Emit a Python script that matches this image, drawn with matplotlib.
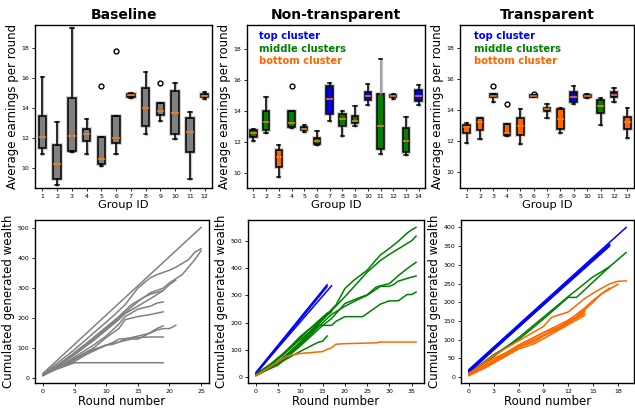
import matplotlib
matplotlib.use("Agg")
import matplotlib.pyplot as plt

# ---- box statistics: (whislo, q1, med, q3, whishi, fliers)
base_stats = [
    (10.93, 11.38, 12.07, 13.49, 16.07, []),
    (8.93, 9.33, 10.27, 11.53, 13.10, []),
    (11.07, 11.18, 12.16, 14.67, 19.33, []),
    (10.93, 11.84, 12.29, 12.64, 13.27, []),
    (10.18, 10.27, 10.64, 12.11, 12.11, [15.49]),
    (10.98, 11.67, 12.00, 13.51, 13.51, [17.82]),
    (14.71, 14.78, 14.87, 14.93, 15.00, []),
    (12.29, 12.82, 14.00, 15.33, 16.42, []),
    (13.16, 13.56, 13.82, 14.38, 14.38, [15.67]),
    (11.93, 12.27, 13.67, 15.18, 15.67, []),
    (9.33, 11.11, 12.44, 13.33, 13.76, []),
    (14.60, 14.73, 14.82, 14.93, 15.07, []),
]
nt_stats = [
    (12.07, 12.28, 12.54, 12.78, 12.83, []),
    (12.57, 12.76, 13.24, 13.98, 14.89, []),
    (9.72, 10.37, 11.02, 11.48, 11.76, []),
    (12.87, 12.93, 13.22, 13.98, 13.98, [15.63]),
    (12.65, 12.74, 12.85, 12.98, 13.09, []),
    (11.78, 11.85, 12.02, 12.22, 12.67, []),
    (13.33, 13.76, 14.78, 15.63, 15.80, []),
    (12.39, 13.00, 13.48, 13.76, 13.98, []),
    (13.04, 13.20, 13.35, 13.65, 14.30, []),
    (14.39, 14.72, 14.96, 15.24, 15.72, []),
    (11.20, 11.52, 13.02, 15.11, 17.33, []),
    (14.76, 14.89, 14.96, 15.02, 15.07, []),
    (11.15, 11.30, 12.04, 12.91, 13.61, []),
    (14.35, 14.61, 14.96, 15.33, 15.65, []),
]
nt_colors = ["green", "green", "#ff6600", "green", "green", "green", "blue",
             "green", "green", "blue", "green", "#e8e8e8", "green", "blue"]
tr_stats = [
    (11.92, 12.57, 12.94, 13.09, 13.19, []),
    (12.14, 12.72, 13.22, 13.54, 13.54, []),
    (14.57, 14.83, 14.92, 15.03, 15.07, [15.54]),
    (12.33, 12.42, 12.57, 13.11, 13.11, [14.40]),
    (11.86, 12.40, 13.00, 13.54, 14.08, []),
    (14.83, 14.87, 14.92, 14.96, 14.98, [15.05]),
    (13.54, 13.93, 14.06, 14.16, 14.42, []),
    (12.57, 12.83, 13.47, 14.08, 14.16, []),
    (14.38, 14.57, 14.85, 15.16, 15.59, []),
    (14.77, 14.83, 14.90, 14.96, 15.03, []),
    (13.09, 13.80, 14.31, 14.66, 14.77, []),
    (14.51, 14.83, 15.00, 15.18, 15.46, []),
    (12.25, 12.83, 13.22, 13.58, 14.16, []),
]
tr_colors = ["#ff6600", "#ff6600", "blue", "#ff6600", "#ff6600", "#ff6600", "green",
             "#ff6600", "blue", "#ff6600", "green", "blue", "#ff6600"]

# ---- cumulated wealth trajectories (round, value)
base_x = [
    [0, 25],
    [0, 2, 5, 8, 11, 13, 15, 16, 17, 18, 20, 21, 23, 24, 25],
    [0, 2, 5, 8, 10, 12, 15, 17, 19, 20, 22, 24, 25],
    [0, 2, 5, 8, 10, 12, 14, 16, 17, 19, 20, 21],
    [0, 3, 5, 8, 10, 12, 13, 15, 17, 19],
    [0, 3, 5, 8, 10, 12, 13, 15, 16, 17, 18, 19],
    [0, 3, 5, 8, 10, 12, 13, 14, 15, 17, 19],
    [0, 3, 5, 8, 10, 11, 12, 14, 15, 16, 18, 19],
    [0, 2, 5, 7, 10, 12, 13, 15, 17, 18, 19, 20, 21],
    [0, 2, 5, 7, 9, 11, 12, 15, 17, 19],
    [0, 2, 5, 19],
]
base_y = [
    [15, 503],
    [12, 45, 95, 150, 205, 245, 300, 318, 335, 345, 360, 370, 395, 420, 432],
    [8, 35, 80, 130, 165, 200, 255, 285, 300, 318, 345, 395, 425],
    [10, 38, 85, 135, 170, 205, 245, 270, 280, 292, 312, 327],
    [10, 50, 78, 125, 160, 195, 215, 240, 265, 292],
    [10, 45, 70, 110, 140, 180, 205, 230, 235, 240, 250, 254],
    [8, 40, 65, 100, 135, 165, 195, 200, 205, 212, 221],
    [10, 40, 65, 95, 110, 112, 120, 130, 130, 140, 165, 174],
    [8, 30, 60, 85, 110, 120, 130, 140, 150, 160, 165, 165, 176],
    [10, 30, 55, 80, 100, 118, 130, 135, 137, 137],
    [10, 28, 51, 51],
]

nt_x = [
    [0, 16], [0, 17], [0, 16],
    [0, 5, 10, 15, 18, 20, 22, 25, 27, 28, 30, 32, 34, 35, 36],
    [0, 5, 10, 15, 20, 25, 28, 30, 33, 35, 36],
    [0, 5, 10, 15, 17, 20, 23, 25, 27, 28, 30, 32, 34, 36],
    [0, 5, 10, 15, 17, 20, 23, 25, 28, 30, 31, 32, 34, 36],
    [0, 4, 8, 12, 14, 17, 18, 20, 24, 28, 30, 32, 34, 35, 36],
    [0, 5, 10, 13, 14, 15, 16],
    [0, 3, 6, 9, 12, 14, 17],
    [0, 3, 6, 9, 12, 15, 17],
    [0, 4, 7, 10, 13, 16],
    [0, 5, 7, 10, 12, 15, 16, 17, 18, 20, 27, 28, 36],
]
nt_y = [
    [18, 339], [15, 335], [12, 332],
    [8, 55, 130, 215, 265, 325, 355, 392, 430, 448, 472, 498, 528, 540, 549],
    [8, 50, 125, 210, 295, 385, 428, 450, 480, 500, 517],
    [8, 45, 115, 190, 215, 270, 290, 302, 330, 335, 343, 372, 398, 421],
    [8, 50, 120, 200, 230, 260, 285, 300, 333, 333, 340, 352, 362, 371],
    [6, 45, 95, 150, 190, 190, 205, 222, 222, 268, 280, 280, 303, 303, 312],
    [6, 50, 95, 120, 128, 132, 151],
    [10, 45, 85, 130, 175, 205, 245],
    [8, 40, 80, 125, 165, 215, 240],
    [12, 55, 100, 150, 190, 235],
    [6, 57, 78, 87, 90, 94, 102, 108, 121, 123, 126, 129, 129],
]
nt_line_colors = ["blue"] * 3 + ["green"] * 9 + ["#ff6600"]

tr_x = [
    [0, 19], [0, 17], [0, 17], [0, 17], [0, 16],
    [0, 3, 6, 9, 12, 13, 17],
    [0, 3, 6, 9, 12, 15, 16, 17, 19],
    [0, 3, 6, 9, 10, 12, 13, 14, 15, 16, 17, 18, 19],
    [0, 3, 6, 9, 11, 12, 14, 15, 16, 17, 18],
    [0, 3, 6, 9, 11, 13, 14, 15, 16, 17],
    [0, 2, 4, 6, 8, 10, 12, 14],
    [0, 2, 4, 6, 8, 9, 11, 13, 14],
    [0, 2, 4, 6, 8, 10, 12, 14],
    [0, 3, 5, 7, 8, 10, 12, 14],
]
tr_y = [
    [20, 400], [18, 355], [15, 350], [16, 352], [12, 335],
    [10, 60, 100, 155, 213, 213, 295],
    [8, 55, 105, 160, 215, 268, 281, 295, 333],
    [8, 58, 97, 135, 160, 174, 192, 210, 224, 237, 249, 256, 257],
    [6, 45, 85, 118, 135, 150, 185, 205, 222, 235, 248],
    [5, 40, 80, 112, 130, 160, 180, 200, 222, 238],
    [8, 30, 58, 85, 108, 130, 152, 181],
    [5, 28, 52, 80, 95, 110, 135, 160, 175],
    [4, 25, 50, 75, 90, 115, 140, 165],
    [10, 50, 70, 90, 100, 120, 145, 170],
]
tr_line_colors = ["blue"] * 5 + ["green"] * 2 + ["#ff6600"] * 7


def to_bxp(stats):
    out = []
    for lo, q1, med, q3, hi, fl in stats:
        out.append(dict(whislo=lo, q1=q1, med=med, q3=q3, whishi=hi, fliers=fl))
    return out


def draw_boxes(ax, stats, colors):
    data = to_bxp(stats)
    pos = list(range(1, len(data) + 1))
    # light grey halo underneath
    ax.bxp(data, positions=pos, patch_artist=True, showfliers=False,
           boxprops=dict(facecolor="none", edgecolor="#c8c8c8", linewidth=2.6),
           whiskerprops=dict(color="#c8c8c8", linewidth=2.4),
           capprops=dict(color="none"), medianprops=dict(color="none"))
    res = ax.bxp(data, positions=pos, patch_artist=True,
                 boxprops=dict(edgecolor="black", linewidth=1.1),
                 whiskerprops=dict(color="black", linewidth=1.1),
                 capprops=dict(color="black", linewidth=1.1),
                 medianprops=dict(color="#ff7f0e", linewidth=1.1),
                 flierprops=dict(marker="o", markersize=3.5, markerfacecolor="none",
                                 markeredgecolor="black", markeredgewidth=1.0))
    for patch, c in zip(res["boxes"], colors):
        patch.set_facecolor(c)
    ax.set_xticks(pos)
    ax.set_xticklabels([str(p) for p in pos])
    return res


fig = plt.figure(figsize=(6.35, 4.09), dpi=100)
W, H = 635.0, 409.0


def add_ax(l, r, t, b):
    return fig.add_axes([l / W, 1 - b / H, (r - l) / W, (b - t) / H])


ax1 = add_ax(35, 212, 25, 188)
ax2 = add_ax(247, 425, 25, 188)
ax3 = add_ax(460, 634, 25, 188)
ax4 = add_ax(35, 209, 220, 383)
ax5 = add_ax(248, 424, 220, 383)
ax6 = add_ax(461, 634, 220, 383)

draw_boxes(ax1, base_stats, ["#808080"] * len(base_stats))
res2 = draw_boxes(ax2, nt_stats, nt_colors)
res2["whiskers"][21].set_color("#999999")  # upper whisker of group 11 is grey
draw_boxes(ax3, tr_stats, tr_colors)
ax1.set_ylim(8.7, 19.55)
ax2.set_ylim(9.0, 19.55)
ax3.set_ylim(9.0, 19.5)

for ax, title in zip([ax1, ax2, ax3], ["Baseline", "Non-transparent", "Transparent"]):
    ax.set_title(title, fontsize=10, fontweight="bold", pad=4)
    ax.set_xlabel("Group ID", fontsize=8.2, labelpad=1)
    ax.set_ylabel("Average earnings per round", fontsize=8.5, labelpad=2)
    ax.set_yticks([10, 12, 14, 16, 18])

for ax, xpos in [(ax2, 0.07), (ax3, 0.08)]:
    ax.text(xpos, 0.93, "top cluster", color="blue", fontsize=7.2, fontweight="bold",
            transform=ax.transAxes, va="center")
    ax.text(xpos, 0.855, "middle clusters", color="green", fontsize=7.2, fontweight="bold",
            transform=ax.transAxes, va="center")
    ax.text(xpos, 0.78, "bottom cluster", color="#ff6600", fontsize=7.2, fontweight="bold",
            transform=ax.transAxes, va="center")

for xs, ys in zip(base_x, base_y):
    ax4.plot(xs, ys, color="#808080", linewidth=1.1)
for xs, ys, c in zip(nt_x, nt_y, nt_line_colors):
    ax5.plot(xs, ys, color=c, linewidth=1.1)
for xs, ys, c in zip(tr_x, tr_y, tr_line_colors):
    ax6.plot(xs, ys, color=c, linewidth=1.1)

ax4.set_xticks([0, 5, 10, 15, 20, 25])
ax4.set_yticks([0, 100, 200, 300, 400, 500])
ax5.set_xticks([0, 5, 10, 15, 20, 25, 30, 35])
ax5.set_yticks([0, 100, 200, 300, 400, 500])
ax6.set_xticks([0, 3, 6, 9, 12, 15, 18])
ax6.set_yticks([0, 50, 100, 150, 200, 250, 300, 350, 400])

for ax in [ax4, ax5, ax6]:
    ax.set_xlabel("Round number", fontsize=8.5, labelpad=1)
    ax.set_ylabel("Cumulated generated wealth", fontsize=8.5, labelpad=2)

for ax in [ax1, ax2, ax3, ax4, ax5, ax6]:
    ax.tick_params(labelsize=4.5, length=2, width=0.6, pad=2)
    for s in ax.spines.values():
        s.set_linewidth(1.0)

fig.savefig("out.png", dpi=100)
